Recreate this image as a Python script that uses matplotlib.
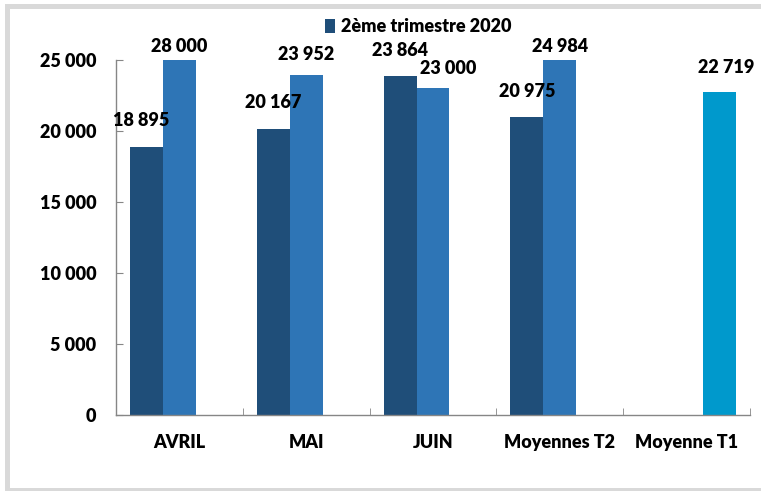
import matplotlib
matplotlib.use("Agg")
import matplotlib.pyplot as plt
import numpy as np
from matplotlib.patches import Rectangle
from matplotlib.ticker import FuncFormatter, FixedLocator
from matplotlib import font_manager as fm

# ---- data ----
categories = ["AVRIL", "MAI", "JUIN", "Moyennes T2", "Moyenne T1"]
t2_2020 = [18895, 20167, 23864, 20975, np.nan]
serie_b = [28000, 23952, 23000, 24984, np.nan]
moyenne_t1 = [np.nan, np.nan, np.nan, np.nan, 22719]
legend_label = "2ème trimestre 2020"
y_ticks = [0, 5000, 10000, 15000, 20000, 25000]

plt.rcParams['font.family'] = ['Lato', 'DejaVu Sans']
WEIGHT = 'heavy'
plt.rcParams['font.weight'] = WEIGHT

W, H = 761, 491
fig = plt.figure(figsize=(W / 100, H / 100), dpi=100)
ax = fig.add_axes([116 / W, 76 / H, 634 / W, 355 / H])

def fmt(v, pos=None):
    return f"{v:,.0f}".replace(",", " ")

x = np.arange(len(categories))
w = 0.26
c_dark, c_mid, c_cyan = '#1f4e79', '#2e75b6', '#0099cc'
b1 = ax.bar(x - w, t2_2020, w, color=c_dark, label=legend_label)
b2 = ax.bar(x, serie_b, w, color=c_mid)
b3 = ax.bar(x + w, moyenne_t1, w, color=c_cyan)

ymax = 25000
ax.set_ylim(0, ymax)
ax.set_xlim(-0.5, len(categories) - 0.5)

# data labels
ax_h_px = 355
cap_px = ax_h_px + 13
nudges = {(0, 0): -5, (1, 2): 15, (2, 4): 7}
for si, (cont, vals, dy) in enumerate([(b1, t2_2020, 26), (b2, serie_b, 20), (b3, moyenne_t1, 25)]):
    for ci, (rect, v) in enumerate(zip(cont, vals)):
        if not np.isfinite(v):
            continue
        top = min(v, ymax)
        top_px = top / ymax * ax_h_px
        d = min(dy, cap_px - top_px)
        dx = nudges.get((si, ci), 0)
        ax.annotate(fmt(v), xy=(rect.get_x() + rect.get_width() / 2, top),
                    xytext=(dx, d), textcoords='offset pixels',
                    ha='center', va='center', fontsize=13, fontweight=WEIGHT,
                    color='black', annotation_clip=False)

# axes styling
for s in ['top', 'right']:
    ax.spines[s].set_visible(False)
for s in ['left', 'bottom']:
    ax.spines[s].set_color('#868686')
    ax.spines[s].set_linewidth(1)

ax.yaxis.set_major_locator(FixedLocator(y_ticks))
ax.yaxis.set_major_formatter(FuncFormatter(fmt))
ax.tick_params(axis='y', direction='in', length=5, color='#868686', pad=14,
               labelsize=13)
ax.set_xticks(x)
ax.set_xticklabels(categories)
ax.tick_params(axis='x', which='major', length=0, pad=14, labelsize=13)
ax.set_xticks(np.arange(len(categories)) + 0.5, minor=True)
ax.tick_params(axis='x', which='minor', direction='in', length=5, color='#868686')
for lab in ax.get_xticklabels() + ax.get_yticklabels():
    lab.set_fontweight(WEIGHT)

# legend
fig.legend(handles=[b1], labels=[legend_label], loc='center',
           bbox_to_anchor=(418 / W, 1 - 27 / H), frameon=False,
           handlelength=0.55, handleheight=0.8,
           handletextpad=0.35, borderpad=0, prop={'weight': WEIGHT, 'size': 13})

# outer frame (light grey)
gc = '#d9d9d9'
fig.patches.append(Rectangle((5 / W, 1 - 9 / H), 1, 5 / H, transform=fig.transFigure,
                             color=gc, lw=0, zorder=0))
fig.patches.append(Rectangle((5 / W, 0), 5 / W, 1 - 4 / H, transform=fig.transFigure,
                             color=gc, lw=0, zorder=0))
fig.patches.append(Rectangle((5 / W, 0), 1, 3 / H, transform=fig.transFigure,
                             color=gc, lw=0, zorder=0))

fig.savefig('out.png', dpi=100)
